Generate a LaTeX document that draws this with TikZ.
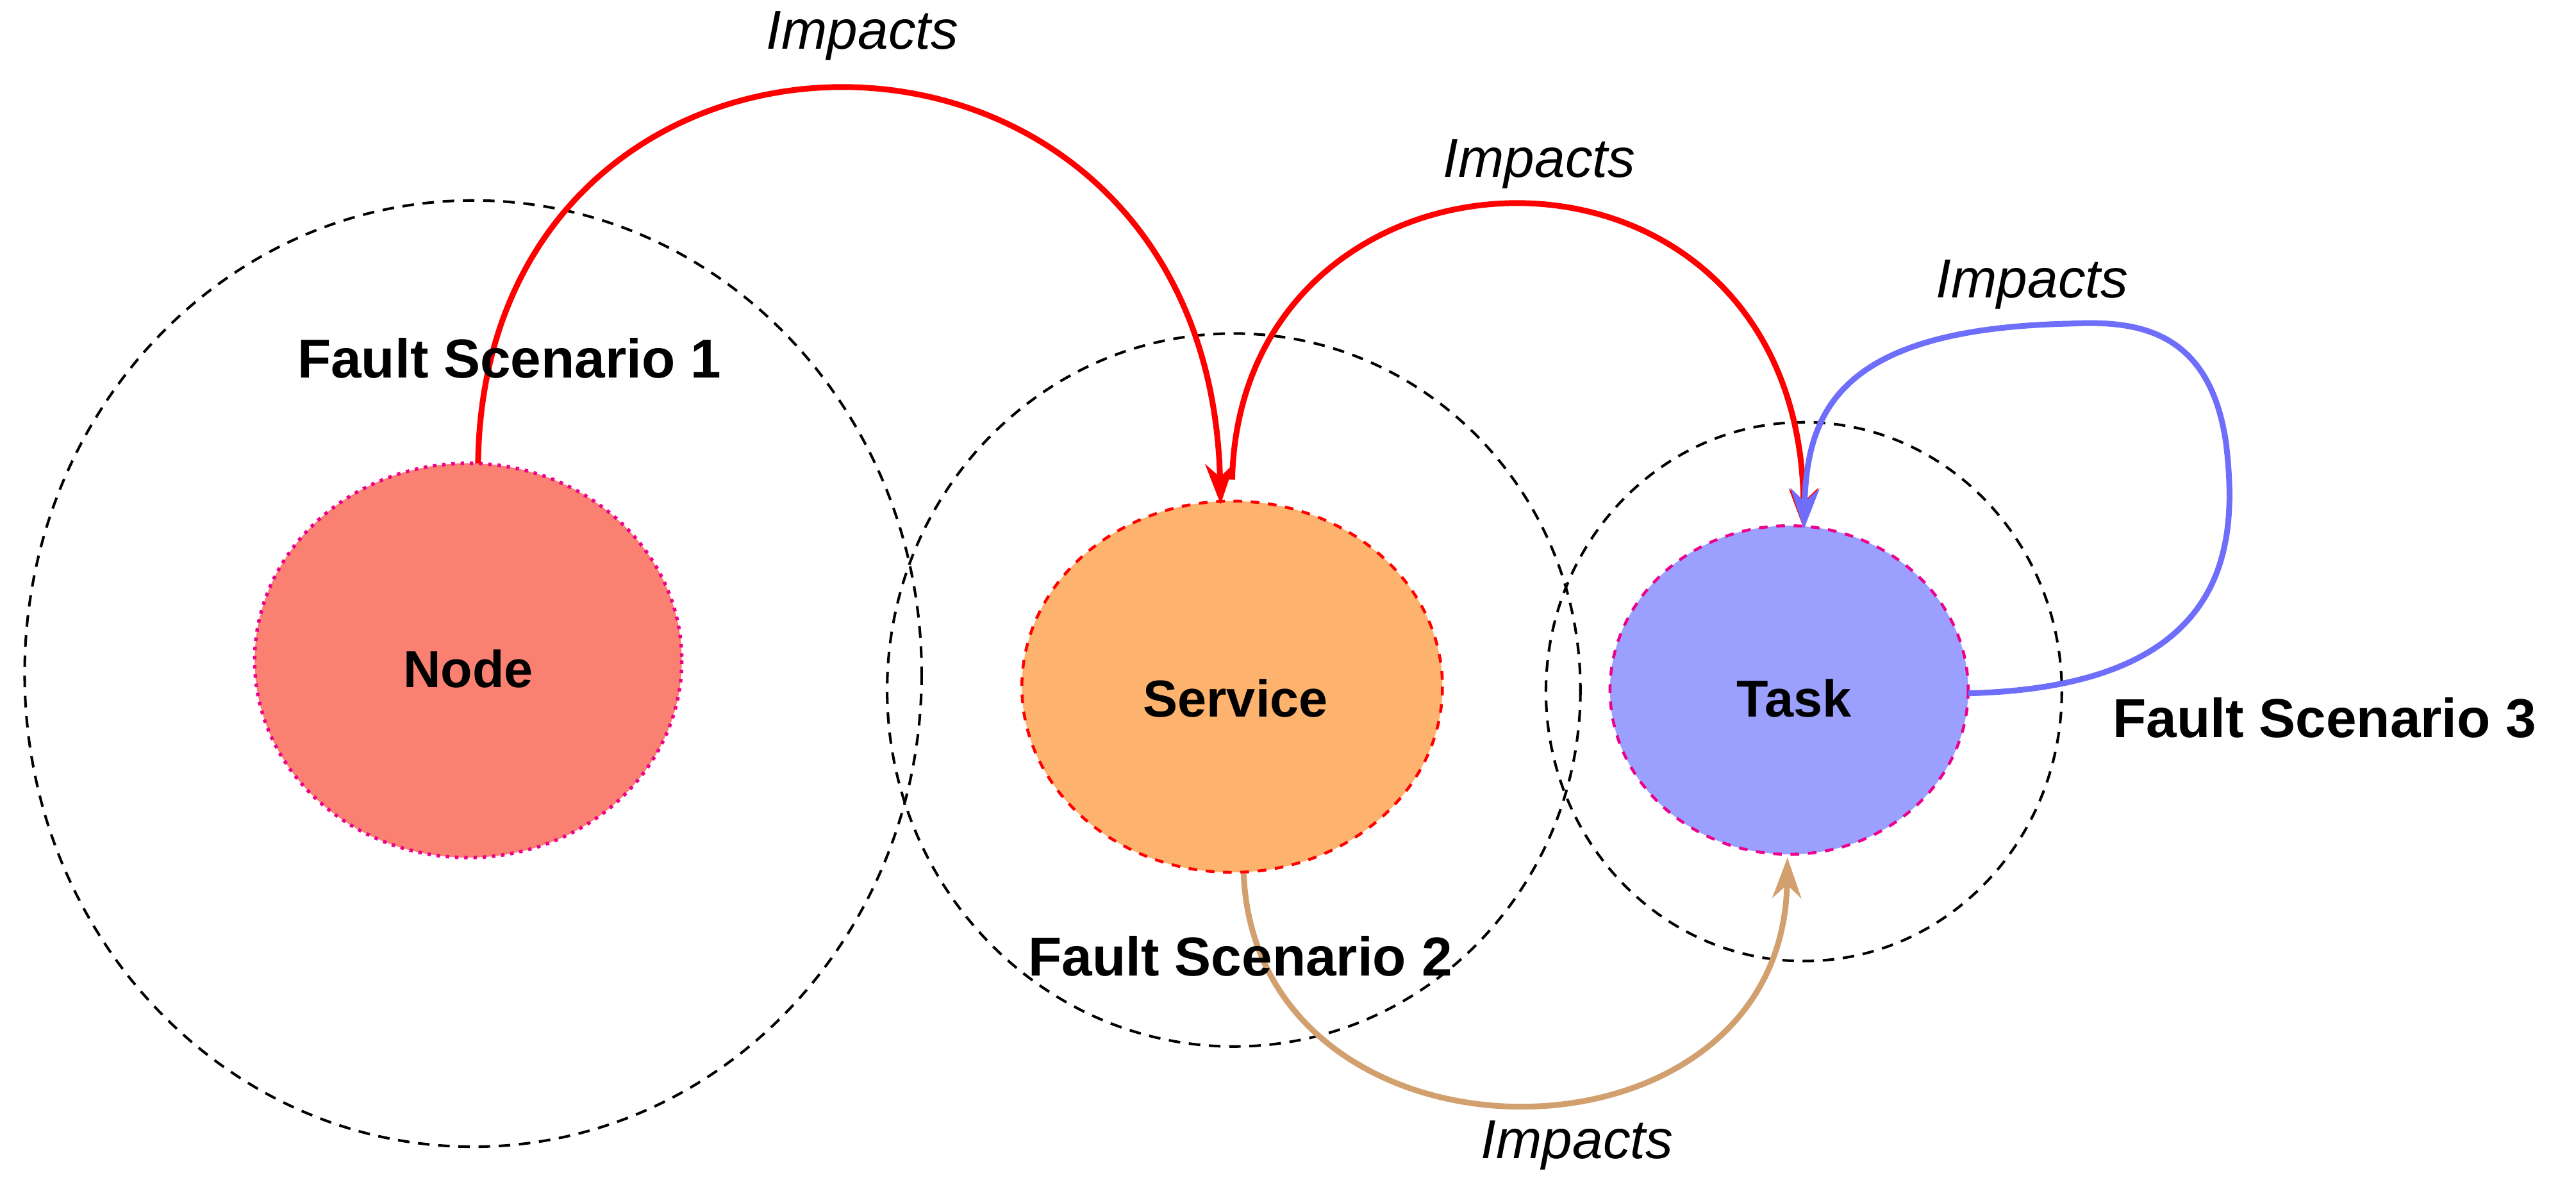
\documentclass[tikz,border=0pt]{standalone}
\usepackage{fontspec}
\setmainfont{Liberation Sans}
\usetikzlibrary{arrows.meta}
\definecolor{bluearr}{RGB}{110,110,250}
\definecolor{tanarr}{RGB}{210,160,110}
\definecolor{nodefill}{RGB}{250,128,114}
\definecolor{servfill}{RGB}{253,178,110}
\definecolor{taskfill}{RGB}{155,160,255}
\begin{document}
\begin{tikzpicture}[x=0.02cm,y=-0.02cm,
  scen/.style={draw=black,line width=0.9pt,dash pattern=on 4pt off 3pt},
  lbl/.style={font=\fontsize{19}{22}\selectfont\bfseries},
  imp/.style={font=\fontsize{19}{22}\selectfont\itshape},
  ent/.style={font=\fontsize{18}{22}\selectfont\bfseries},
  arr/.style={line width=2pt,-{Stealth[length=14pt,width=10pt]}}]
\useasboundingbox (0,0) rectangle (1568,728);
\draw[scen] (288,410) ellipse [x radius=273,y radius=288];
\draw[scen] (751,420) ellipse [x radius=211,y radius=217];
\draw[scen] (1098,421) ellipse [x radius=157,y radius=164];
\draw[magenta,dotted,line width=1.2pt,fill=nodefill] (285,402) ellipse [x radius=130,y radius=120];
\draw[red,dashed,line width=1pt,fill=servfill] (750,418) ellipse [x radius=128,y radius=113];
\draw[magenta,dashed,line width=1pt,fill=taskfill] (1089,420) ellipse [x radius=109,y radius=100];
\node[ent] (nl) at (285,407) {Node};
\node[ent] (sl) at (752,425) {Service};
\node[ent] (tl) at (1092,425) {Task};
\coordinate (ntop) at (291,282);
\coordinate (stop) at (743,307);
\coordinate (s2) at (750,292);
\coordinate (ttop) at (1098,322);
\coordinate (tright) at (1198,422);
\coordinate (sbot) at (757,532);
\coordinate (tbot) at (1088,522);
\draw[arr,red] (ntop) .. controls (295,-25) and (735,-25) .. (stop);
\draw[arr,red] (s2) .. controls (755,70) and (1095,60) .. (ttop);
\draw[arr,bluearr] (tright) .. controls (1360,418) and (1362,330) .. (1355,270) .. controls (1345,200) and (1300,195) .. (1260,197) .. controls (1120,200) and (1100,250) .. (ttop);
\draw[arr,tanarr] (sbot) .. controls (765,720) and (1085,720) .. (tbot);
\node[lbl] (f1) at (310,218) {Fault Scenario 1};
\node[lbl] (f2) at (755,582) {Fault Scenario 2};
\node[lbl] (f3) at (1415,437) {Fault Scenario 3};
\node[imp] (i1) at (525,22) {Impacts};
\node[imp] (i2) at (937,100) {Impacts};
\node[imp] (i3) at (1237,173) {Impacts};
\node[imp] (i4) at (960,697) {Impacts};
\end{tikzpicture}
\end{document}
